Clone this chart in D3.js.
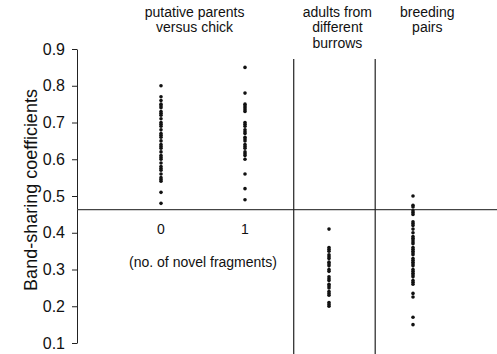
<!DOCTYPE html>
<html>
<head>
<meta charset="utf-8">
<script src="https://cdn.jsdelivr.net/npm/d3@7"></script>
<style>
  body { margin: 0; background: #fff; }
  text { font-family: Arial, "Liberation Sans", sans-serif; fill: #111; }
</style>
</head>
<body>
<script>
// group positions along x (0..3) and their header labels
var groups = [0, 1, 2, 3];
var groupTicks = ["0", "1"];
var headers = [
  {pos: 0.4, lines: ["putative parents", "versus chick"]},
  {pos: 2.1, lines: ["adults from", "different", "burrows"]},
  {pos: 3.17, lines: ["breeding", "pairs"]}
];
var separators = [1.58, 2.55];
var cutoff = 0.463;
var yTicks = [0.1, 0.2, 0.3, 0.4, 0.5, 0.6, 0.7, 0.8, 0.9];

// band-sharing coefficients
var novel0 = [0.80, 0.77, 0.76, 0.75, 0.745, 0.74, 0.73, 0.725, 0.72, 0.71, 0.70, 0.695, 0.69,
  0.68, 0.67, 0.665, 0.66, 0.65, 0.64, 0.635, 0.63, 0.62, 0.61, 0.605, 0.60, 0.59, 0.58,
  0.575, 0.57, 0.56, 0.55, 0.545, 0.54, 0.51, 0.48];
var novel1 = [0.85, 0.78, 0.75, 0.745, 0.74, 0.735, 0.73, 0.70, 0.695, 0.69, 0.68, 0.675,
  0.67, 0.66, 0.655, 0.65, 0.64, 0.635, 0.63, 0.62, 0.615, 0.61, 0.60, 0.56, 0.52, 0.49];
var adults = [0.41, 0.36, 0.355, 0.35, 0.34, 0.335, 0.33, 0.32, 0.315, 0.31, 0.30, 0.295,
  0.28, 0.275, 0.27, 0.26, 0.255, 0.25, 0.24, 0.235, 0.23, 0.21, 0.205, 0.20];
var breeding = [0.50, 0.475, 0.47, 0.46, 0.455, 0.45, 0.43, 0.425, 0.42, 0.41, 0.40,
  0.39, 0.385, 0.38, 0.375, 0.37, 0.36, 0.355, 0.35, 0.345, 0.34, 0.33, 0.325, 0.32, 0.315,
  0.31, 0.30, 0.295, 0.29, 0.285, 0.28, 0.27, 0.265, 0.26, 0.235, 0.225,
  0.17, 0.15];
var series = [novel0, novel1, adults, breeding];

var width = 497, height = 354;
var svg = d3.select("body").append("svg").attr("width", width).attr("height", height);

var x = d3.scaleLinear().domain([0, 3]).range([161, 413]);
var y = d3.scaleLinear().domain([0.1, 0.9]).range([343, 49]);

// y axis
var yAxis = d3.axisLeft(y).tickValues(yTicks).tickFormat(d3.format(".1f"))
  .tickSize(5).tickSizeOuter(0).tickPadding(7);
var ag = svg.append("g").attr("transform", "translate(77,0)").call(yAxis);
ag.select(".domain").attr("stroke", "#222").attr("stroke-width", 1);
ag.selectAll(".tick line").attr("stroke", "#222");
ag.selectAll(".tick text").style("font-size", "16px").attr("fill", "#111")
  .attr("font-family", "Arial, 'Liberation Sans', sans-serif");

svg.append("text")
  .attr("transform", "translate(37," + 190 + ") rotate(-90)")
  .attr("text-anchor", "middle")
  .style("font-size", "18px")
  .text("Band-sharing coefficients");

// cutoff line and group separators
svg.append("line")
  .attr("x1", 77).attr("x2", width)
  .attr("y1", y(cutoff)).attr("y2", y(cutoff))
  .attr("stroke", "#444").attr("stroke-width", 1.3);

svg.selectAll("line.sep").data(separators).enter().append("line")
  .attr("class", "sep")
  .attr("x1", function(d) { return x(d); }).attr("x2", function(d) { return x(d); })
  .attr("y1", y(0.873)).attr("y2", height)
  .attr("stroke", "#222").attr("stroke-width", 1.2);

// headers
headers.forEach(function(h) {
  var t = svg.append("text").attr("text-anchor", "middle").style("font-size", "14px");
  h.lines.forEach(function(l, i) {
    t.append("tspan").attr("x", x(h.pos)).attr("y", 16.5 + i * 15.5).text(l);
  });
});

// novel fragment labels
svg.selectAll("text.grp").data(groupTicks).enter().append("text")
  .attr("class", "grp")
  .attr("x", function(d, i) { return x(groups[i]); })
  .attr("y", 234)
  .attr("text-anchor", "middle")
  .style("font-size", "14px")
  .text(function(d) { return d; });

svg.append("text")
  .attr("x", x(0.5))
  .attr("y", 267)
  .attr("text-anchor", "middle")
  .style("font-size", "14px")
  .text("(no. of novel fragments)");

// dots
series.forEach(function(vals, i) {
  svg.selectAll("circle.s" + i).data(vals).enter().append("circle")
    .attr("class", "s" + i)
    .attr("cx", x(groups[i]))
    .attr("cy", function(d) { return y(d); })
    .attr("r", 1.8)
    .attr("fill", "#111");
});
</script>
</body>
</html>
